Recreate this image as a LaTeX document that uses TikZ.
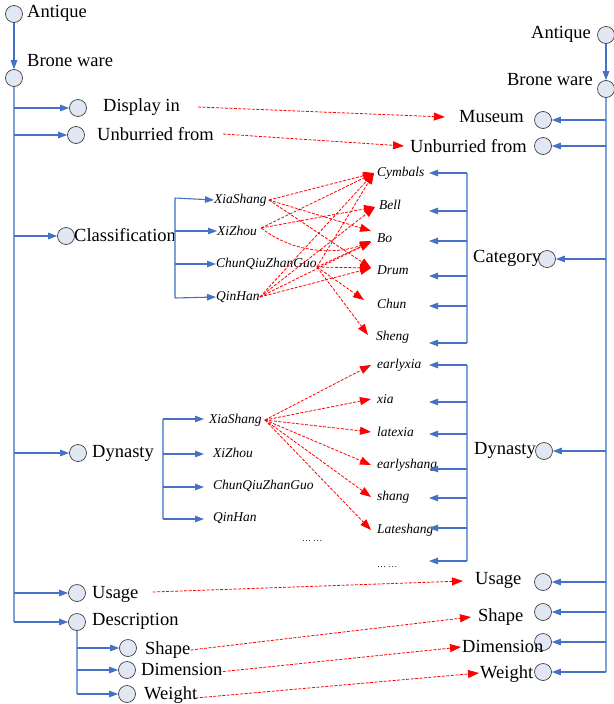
\documentclass[tikz,border=0pt]{standalone}
\usepackage{fontspec}
\setmainfont{Liberation Serif}
\usetikzlibrary{arrows.meta}
\definecolor{bline}{HTML}{4472C4}
\definecolor{bbar}{HTML}{7FA0D8}
\definecolor{cfill}{HTML}{E1E8F4}
\begin{document}
\begin{tikzpicture}[x=1pt,y=-1pt,
 circ/.style={circle,draw=black!75,fill=cfill,minimum size=17pt,inner sep=0pt,line width=0.7pt},
 lab/.style={font=\fontsize{18.5}{20}\selectfont,inner sep=0pt},
 ilab/.style={font=\fontsize{13.5}{15}\selectfont\itshape,inner sep=0pt},
 dots/.style={font=\fontsize{9}{10}\selectfont,inner sep=0pt},
 bar/.style={draw=bbar,line width=1.6pt},
 bar2/.style={draw=bbar,line width=1.2pt},
 bln/.style={draw=bline,line width=1.1pt},
 barr/.style={bln,-{Triangle[length=9pt,width=6.5pt]}},
 rarr/.style={draw=red,line width=0.8pt,dash pattern=on 3pt off 1.5pt,-{Triangle[length=11pt,width=8pt]}},
]
\useasboundingbox (0,0) rectangle (613,704);

% ---------- left tree ----------
\node[circ] (lA) at (14,14) {};
\node[lab,anchor=west] (lAt) at (27,13) {Antique};
\node[circ] (lB) at (14,78) {};
\node[lab,anchor=west] (lBt) at (27,61) {Brone ware};
\node[circ] (lDisp) at (78,108) {};
\node[lab,anchor=west] (lDispt) at (103,107) {Display in};
\node[circ] (lUnb) at (76,135) {};
\node[lab,anchor=west] (lUnbt) at (97,134) {Unburried from};
\node[circ] (lCls) at (66,236) {};
\node[lab,anchor=west] (lClst) at (74,235) {Classification};
\node[circ] (lDyn) at (78,453) {};
\node[lab,anchor=west] (lDynt) at (92,453) {Dynasty};
\node[circ] (lUse) at (77,593) {};
\node[lab,anchor=west] (lUset) at (92,594) {Usage};
\node[circ] (lDesc) at (77,622) {};
\node[lab,anchor=west] (lDesct) at (92,621) {Description};
\node[circ] (lShp) at (128,648) {};
\node[lab,anchor=west] (lShpt) at (145,650) {Shape};
\node[circ] (lDim) at (127,670) {};
\node[lab,anchor=west] (lDimt) at (141,669) {Dimension};
\node[circ] (lWgt) at (127,694) {};
\node[lab,anchor=west] (lWgtt) at (144,695) {Weight};

\draw[barr] (lA) -- (lB);
\coordinate (lEnd) at (14,622);
\draw[bar] (lB) -- (lEnd);
\draw[barr] (lEnd) -- (lDesc);
\foreach \n in {lDisp,lUnb,lCls,lDyn,lUse} \draw[barr] (lB |- \n) -- (\n);
\coordinate (dEnd) at (77,694);
\draw[bar2] (lDesc) -- (dEnd);
\draw[barr] (lDesc |- lShp) -- (lShp);
\draw[barr] (lDesc |- lDim) -- (lDim);
\draw[barr] (dEnd) -- (lWgt);

% ---------- classification sub ----------
\node[ilab,anchor=west] (cXS) at (214,200) {XiaShang};
\node[ilab,anchor=west] (cXZ) at (217,231) {XiZhou};
\node[ilab,anchor=west] (cCQ) at (216,264) {ChunQiuZhanGuo};
\node[ilab,anchor=west] (cQH) at (216,297) {QinHan};
\coordinate (cTop) at (175,198);
\coordinate (cBot) at (175,298);
\draw[bar2] (cTop) -- (cBot);
\draw[barr] (cTop) -- (cXS.west);
\draw[barr] (cTop |- cXZ) -- (cXZ.west);
\draw[barr] (cTop |- cCQ) -- (cCQ.west);
\draw[barr] (cBot) -- (cQH.west);

% ---------- category items ----------
\node[ilab,anchor=west] (kCym) at (377,173) {Cymbals};
\node[ilab,anchor=west] (kBell) at (379,205) {Bell};
\node[ilab,anchor=west] (kBo) at (377,238) {Bo};
\node[ilab,anchor=west] (kDrum) at (377,270) {Drum};
\node[ilab,anchor=west] (kChun) at (377,304) {Chun};
\node[ilab,anchor=west] (kSheng) at (376,337) {Sheng};
\coordinate (kTop) at (467,173);
\coordinate (kBot) at (467,343);
\draw[bar2] (kTop) -- (kBot);
\foreach \i/\yy in {1/173,2/211,3/241,4/276,5/306,6/343}{
  \coordinate (kS\i) at (467,\yy);
  \coordinate (kE\i) at (429,\yy);
  \draw[barr] (kS\i) -- (kE\i);
}

% ---------- dynasty sub ----------
\node[ilab,anchor=west] (dXS) at (209,420) {XiaShang};
\node[ilab,anchor=west] (dXZ) at (213,453) {XiZhou};
\node[ilab,anchor=west] (dCQ) at (213,486) {ChunQiuZhanGuo};
\node[ilab,anchor=west] (dQH) at (213,518) {QinHan};
\node[dots,anchor=west] (dDots) at (302,541) {… …};
\coordinate (dTop) at (163,419);
\coordinate (dBot) at (163,519);
\draw[bar2] (dTop) -- (dBot);
\foreach \i/\yy in {1/419,2/454,3/487,4/519}{
  \coordinate (dS\i) at (163,\yy);
  \coordinate (dE\i) at (204,\yy);
  \draw[barr] (dS\i) -- (dE\i);
}

% ---------- dynasty items ----------
\node[ilab,anchor=west] (yEX) at (377,365) {earlyxia};
\node[ilab,anchor=west] (yX) at (377,399) {xia};
\node[ilab,anchor=west] (yLX) at (377,432) {latexia};
\node[ilab,anchor=west] (yES) at (377,465) {earlyshang};
\node[ilab,anchor=west] (yS) at (377,497) {shang};
\node[ilab,anchor=west] (yLS) at (377,530) {Lateshang};
\node[dots,anchor=west] (yDots) at (377,567) {… …};
\coordinate (yTop) at (467,365);
\coordinate (yBot) at (467,561);
\draw[bar2] (yTop) -- (yBot);
\foreach \i/\yy in {1/365,2/402,3/434,4/469,5/498,6/528,7/561}{
  \coordinate (yS\i) at (467,\yy);
  \coordinate (yE\i) at (429,\yy);
  \draw[barr] (yS\i) -- (yE\i);
}

% ---------- right tree ----------
\node[circ] (rA) at (606,35) {};
\node[lab,anchor=east] (rAt) at (591,34) {Antique};
\node[circ] (rB) at (606,89) {};
\node[lab,anchor=east] (rBt) at (593,80) {Brone ware};
\node[circ] (rMus) at (543,120) {};
\node[lab,anchor=east] (rMust) at (524,117) {Museum};
\node[circ] (rUnb) at (543,146) {};
\node[lab,anchor=east] (rUnbt) at (527,146) {Unburried from};
\node[circ] (rCat) at (547,259) {};
\node[lab,anchor=west] (rCatt) at (473,258) {Category};
\node[circ] (rDyn) at (544,451) {};
\node[lab,anchor=west] (rDynt) at (474,450) {Dynasty};
\node[circ] (rUse) at (543,582) {};
\node[lab,anchor=west] (rUset) at (475,580) {Usage};
\node[circ] (rShp) at (543,612) {};
\node[lab,anchor=west] (rShpt) at (478,617) {Shape};
\node[circ] (rDim) at (543,642) {};
\node[lab,anchor=west] (rDimt) at (462,646) {Dimension};
\node[circ] (rWgt) at (543,672) {};
\node[lab,anchor=west] (rWgtt) at (480,674) {Weight};

\draw[barr] (rA) -- (rB);
\coordinate (rEnd) at (606,672);
\draw[bar] (rB) -- (rEnd);
\foreach \n in {rMus,rUnb,rCat,rDyn,rUse,rShp,rDim} \draw[barr] (rB |- \n) -- (\n);
\draw[barr] (rEnd) -- (rWgt);

% ---------- red mappings ----------
\draw[rarr] ([xshift=18pt]lDispt.east) -- ([xshift=-14pt]rMust.west);
\draw[rarr] ([xshift=9pt]lUnbt.east) -- ([xshift=-6pt]rUnbt.west);
\draw[rarr] ([xshift=14pt,yshift=2pt]lUset.east) -- ([xshift=-12pt,yshift=-1pt]rUset.west);
\draw[rarr] (lShpt.east) -- ([xshift=-7pt]rShpt.west);
\draw[rarr] ([xshift=-4pt,yshift=-3pt]lDimt.east) -- ([xshift=-1pt,yshift=-1pt]rDimt.west);
\draw[rarr] ([xshift=-2pt,yshift=-3pt]lWgtt.east) -- ([xshift=-1pt,yshift=1pt]rWgtt.west);

% classification
\draw[rarr] ([xshift=2pt]cXS.east) -- ([xshift=-3pt]kCym.west);
\draw[rarr] ([xshift=2pt]cXS.east) -- ([xshift=-6pt,yshift=7pt]kBo.west);
\draw[rarr] ([xshift=2pt]cXS.east) -- ([xshift=-6pt,yshift=2pt]kDrum.west);
\draw[rarr] ([xshift=4pt,yshift=3pt]cXZ.east) -- ([xshift=-3pt]kCym.west);
\draw[rarr] ([xshift=4pt,yshift=3pt]cXZ.east) -- ([xshift=-4pt,yshift=-2pt]kBell.west);
\draw[rarr] ([xshift=4pt,yshift=3pt]cXZ.east) .. controls (300,258) and (345,252) .. ([xshift=-6pt,yshift=-3pt]kBo.west);
\draw[rarr] ([yshift=-3pt]cCQ.east) -- ([xshift=-3pt]kCym.west);
\draw[rarr] ([yshift=-3pt]cCQ.east) -- ([xshift=-6pt,yshift=-4pt]kBo.west);
\draw[rarr] ([yshift=-3pt]cCQ.east) -- ([xshift=-6pt,yshift=2pt]kDrum.west);
\draw[rarr] ([yshift=-3pt]cCQ.east) -- ([xshift=-13pt,yshift=4pt]kChun.west);
\draw[rarr] ([yshift=-3pt]cCQ.east) -- ([xshift=-8pt,yshift=2pt]kSheng.west);
\draw[rarr] (cQH.east) -- ([xshift=-3pt]kCym.west);
\draw[rarr] (cQH.east) -- ([xshift=-4pt,yshift=-2pt]kBell.west);
\draw[rarr] (cQH.east) -- ([xshift=-6pt,yshift=-4pt]kBo.west);
\draw[rarr] (cQH.east) -- ([xshift=-6pt,yshift=2pt]kDrum.west);

% dynasty
\foreach \t in {yEX,yX,yLX,yES,yS,yLS}
  \draw[rarr] ([xshift=3pt]dXS.east) -- ([xshift=-6pt]\t.west);
\end{tikzpicture}
\end{document}
